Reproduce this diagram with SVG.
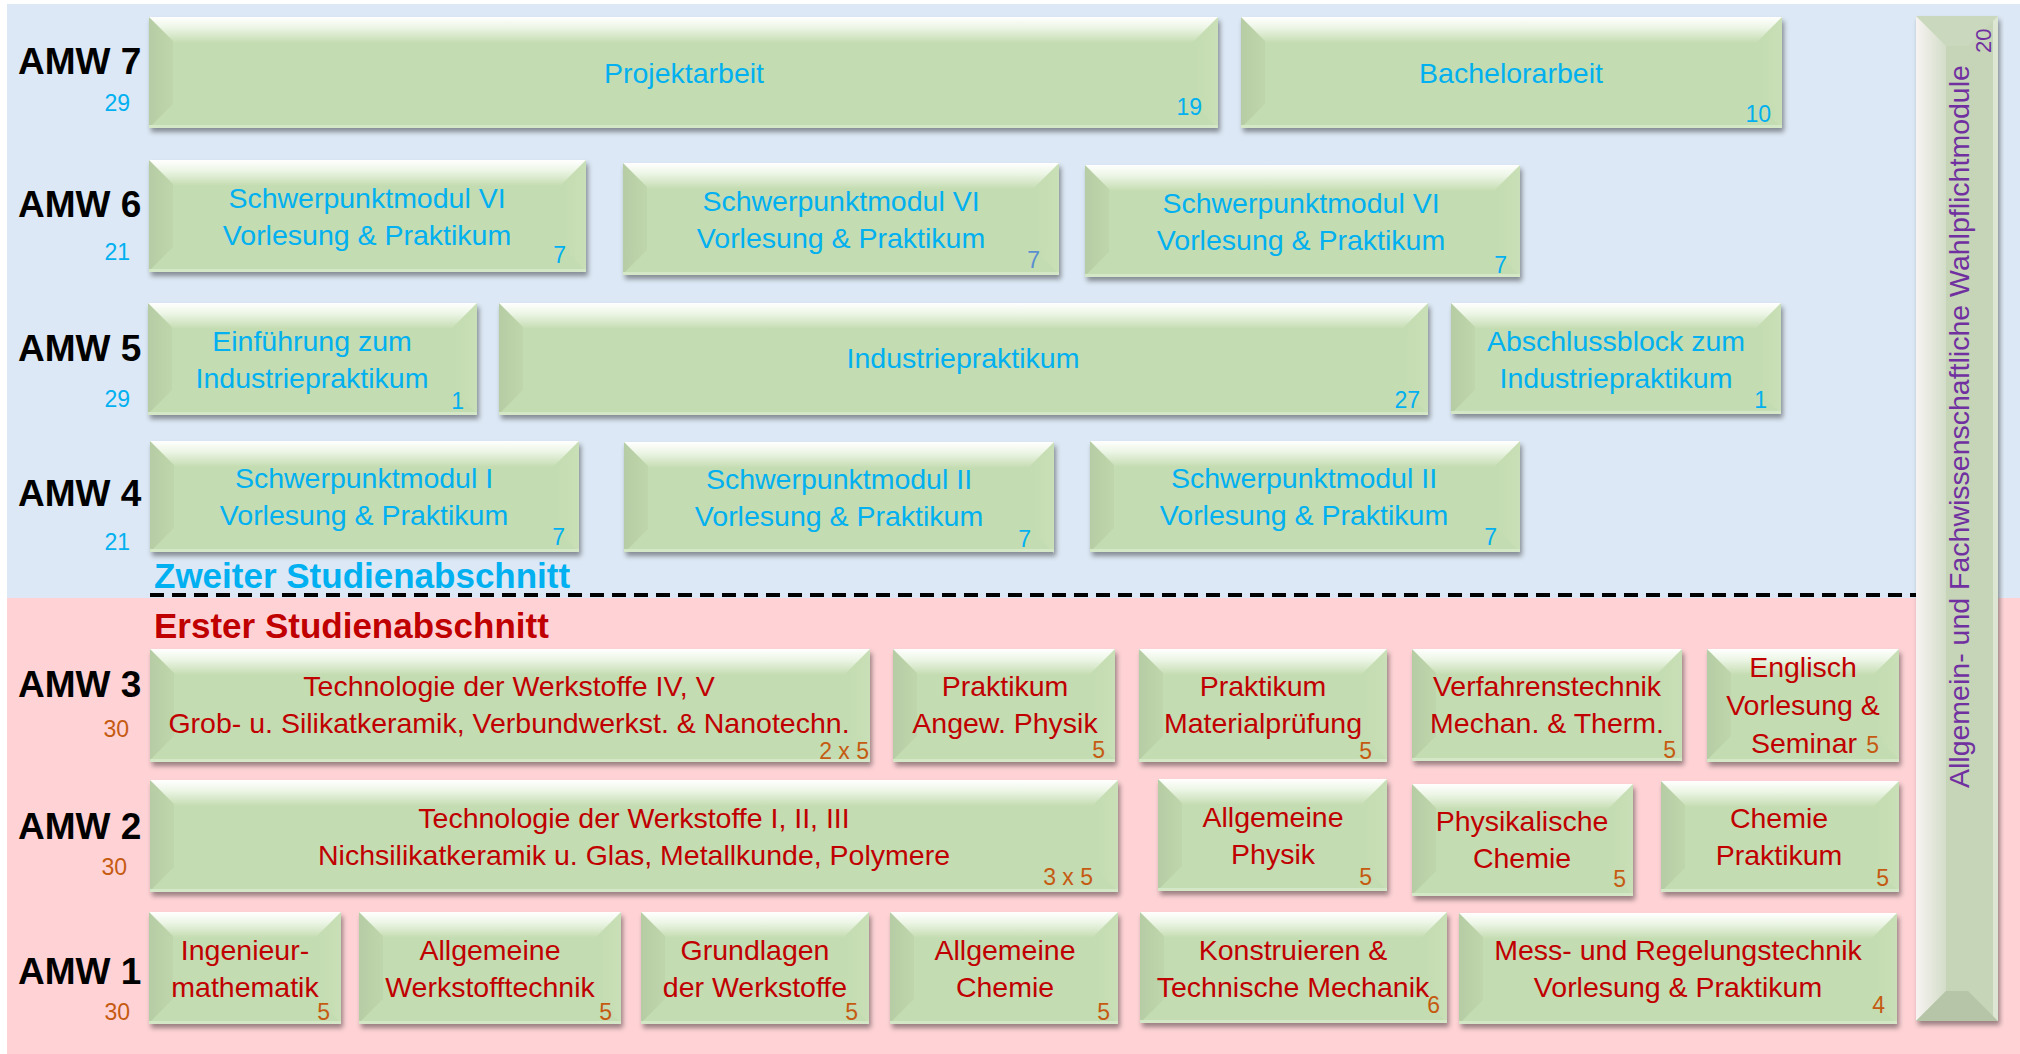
<svg xmlns="http://www.w3.org/2000/svg" width="2020" height="1054" viewBox="0 0 2020 1054">
<style>
text{font-family:'Liberation Sans',Arial,sans-serif}
.amw{font-size:37px;font-weight:bold;fill:#000}
.hd{font-size:35px;font-weight:bold}
.t{font-size:28.5px;text-anchor:middle}
.n{font-size:23px;text-anchor:end}
.c{font-size:23px;text-anchor:end}
.bl{fill:#00b0f0}
.sl{fill:#5b8fd0}
.rd{fill:#c00000}
.or{fill:#c55a11}
.pu{fill:#7030a0}
</style>
<defs>
<filter id="ds" x="-5%" y="-10%" width="112%" height="130%"><feDropShadow dx="2" dy="4" stdDeviation="2.5" flood-color="#000" flood-opacity="0.4"/></filter>
<linearGradient id="gTop" x1="0" y1="0" x2="0" y2="1"><stop offset="0" stop-color="#ffffff"/><stop offset="0.4" stop-color="#edf6e6"/><stop offset="1" stop-color="#c4dcb1"/></linearGradient>
<linearGradient id="gLeft" x1="0" y1="0" x2="1" y2="0"><stop offset="0" stop-color="#b6cca4"/><stop offset="1" stop-color="#bfd6ac"/></linearGradient>
<linearGradient id="gRight" x1="0" y1="0" x2="1" y2="0"><stop offset="0" stop-color="#c4dcb1"/><stop offset="1" stop-color="#c9dfb7"/></linearGradient>
<linearGradient id="gBarL" x1="0" y1="0" x2="1" y2="0"><stop offset="0" stop-color="#f7f3f2"/><stop offset="1" stop-color="#d3ddc8"/></linearGradient>
<symbol id="bev" overflow="visible">
<rect width="100%" height="100%" fill="#c4dcb1" filter="url(#ds)"/>
<rect width="100%" height="26" fill="url(#gTop)"/>
<polygon points="0,0 24,24 24,87 0,111" fill="url(#gLeft)"/>
<svg x="100%" y="0" width="1" height="1" overflow="visible"><polygon points="0,0 0,111 -24,87 -24,24" fill="url(#gRight)"/></svg>
<rect y="100%" width="100%" height="3" transform="translate(0,-3)" fill="#d4e7c6"/>
</symbol>
</defs>

<g id="background">
<rect x="0" y="0" width="2020" height="1054" fill="#ffffff"/>
<rect x="7" y="4" width="2013" height="594" fill="#dce8f5"/>
<rect x="7" y="598" width="2013" height="456" fill="#ffd3d6"/>
</g>

<g id="connectors">
<line x1="150" y1="595" x2="1918" y2="595" stroke="#000" stroke-width="4" stroke-dasharray="14 8"/>
</g>

<g id="labels">
<g id="amw7"><text class="amw" x="18" y="74">AMW 7</text><text class="c bl" x="130" y="111">29</text></g>
<g id="amw6"><text class="amw" x="18" y="217">AMW 6</text><text class="c bl" x="130" y="260">21</text></g>
<g id="amw5"><text class="amw" x="18" y="361">AMW 5</text><text class="c bl" x="130" y="407">29</text></g>
<g id="amw4"><text class="amw" x="18" y="506">AMW 4</text><text class="c bl" x="130" y="550">21</text></g>
<g id="amw3"><text class="amw" x="18" y="697">AMW 3</text><text class="c or" x="129" y="737">30</text></g>
<g id="amw2"><text class="amw" x="18" y="839">AMW 2</text><text class="c or" x="127" y="875">30</text></g>
<g id="amw1"><text class="amw" x="18" y="984">AMW 1</text><text class="c or" x="130" y="1020">30</text></g>
<text id="zweiter" class="hd bl" x="154" y="588">Zweiter Studienabschnitt</text>
<text id="erster" class="hd rd" x="154" y="638">Erster Studienabschnitt</text>
</g>

<g id="projektarbeit"><use href="#bev" x="149" y="17" width="1069" height="111"/><text class="t bl" x="684" y="83">Projektarbeit</text><text class="n bl" x="1202" y="115">19</text></g>
<g id="bachelorarbeit"><use href="#bev" x="1241" y="17" width="541" height="111"/><text class="t bl" x="1511" y="83">Bachelorarbeit</text><text class="n bl" x="1771" y="122">10</text></g>

<g id="r6a"><use href="#bev" x="149" y="160" width="437" height="112"/><text class="t bl" x="367" y="208">Schwerpunktmodul VI</text><text class="t bl" x="367" y="245">Vorlesung &amp; Praktikum</text><text class="n bl" x="566" y="263">7</text></g>
<g id="r6b"><use href="#bev" x="623" y="163" width="436" height="112"/><text class="t bl" x="841" y="211">Schwerpunktmodul VI</text><text class="t bl" x="841" y="248">Vorlesung &amp; Praktikum</text><text class="n sl" x="1040" y="268">7</text></g>
<g id="r6c"><use href="#bev" x="1085" y="165" width="435" height="112"/><text class="t bl" x="1301" y="213">Schwerpunktmodul VI</text><text class="t bl" x="1301" y="250">Vorlesung &amp; Praktikum</text><text class="n bl" x="1507" y="273">7</text></g>

<g id="r5a"><use href="#bev" x="148" y="303" width="329" height="112"/><text class="t bl" x="312" y="351">Einführung zum</text><text class="t bl" x="312" y="388">Industriepraktikum</text><text class="n bl" x="464" y="409">1</text></g>
<g id="r5b"><use href="#bev" x="499" y="303" width="929" height="112"/><text class="t bl" x="963" y="368">Industriepraktikum</text><text class="n bl" x="1420" y="408">27</text></g>
<g id="r5c"><use href="#bev" x="1451" y="303" width="330" height="111"/><text class="t bl" x="1616" y="351">Abschlussblock zum</text><text class="t bl" x="1616" y="388">Industriepraktikum</text><text class="n bl" x="1767" y="408">1</text></g>

<g id="r4a"><use href="#bev" x="150" y="441" width="429" height="111"/><text class="t bl" x="364" y="488">Schwerpunktmodul I</text><text class="t bl" x="364" y="525">Vorlesung &amp; Praktikum</text><text class="n bl" x="565" y="545">7</text></g>
<g id="r4b"><use href="#bev" x="624" y="442" width="430" height="110"/><text class="t bl" x="839" y="489">Schwerpunktmodul II</text><text class="t bl" x="839" y="526">Vorlesung &amp; Praktikum</text><text class="n bl" x="1031" y="547">7</text></g>
<g id="r4c"><use href="#bev" x="1090" y="441" width="430" height="111"/><text class="t bl" x="1304" y="488">Schwerpunktmodul II</text><text class="t bl" x="1304" y="525">Vorlesung &amp; Praktikum</text><text class="n bl" x="1497" y="545">7</text></g>

<g id="r3a"><use href="#bev" x="150" y="649" width="720" height="113"/><text class="t rd" x="509" y="696">Technologie der Werkstoffe IV, V</text><text class="t rd" x="509" y="733">Grob- u. Silikatkeramik, Verbundwerkst. &amp; Nanotechn.</text><text class="n or" x="869" y="759" font-size="22">2 x 5</text></g>
<g id="r3b"><use href="#bev" x="893" y="649" width="222" height="113"/><text class="t rd" x="1005" y="696">Praktikum</text><text class="t rd" x="1005" y="733">Angew. Physik</text><text class="n or" x="1105" y="758">5</text></g>
<g id="r3c"><use href="#bev" x="1139" y="649" width="248" height="113"/><text class="t rd" x="1263" y="696">Praktikum</text><text class="t rd" x="1263" y="733">Materialprüfung</text><text class="n or" x="1372" y="759">5</text></g>
<g id="r3d"><use href="#bev" x="1412" y="649" width="270" height="112"/><text class="t rd" x="1547" y="696">Verfahrenstechnik</text><text class="t rd" x="1547" y="733">Mechan. &amp; Therm.</text><text class="n or" x="1676" y="758">5</text></g>
<g id="r3e"><use href="#bev" x="1707" y="649" width="192" height="113"/><text class="t rd" x="1803" y="677">Englisch</text><text class="t rd" x="1803" y="715">Vorlesung &amp;</text><text class="t rd" x="1804" y="753">Seminar</text><text class="n or" x="1879" y="753">5</text></g>

<g id="r2a"><use href="#bev" x="150" y="780" width="968" height="112"/><text class="t rd" x="634" y="828">Technologie der Werkstoffe I, II, III</text><text class="t rd" x="634" y="865">Nichsilikatkeramik u. Glas, Metallkunde, Polymere</text><text class="n or" x="1093" y="885">3 x 5</text></g>
<g id="r2b"><use href="#bev" x="1158" y="779" width="229" height="112"/><text class="t rd" x="1273" y="827">Allgemeine</text><text class="t rd" x="1273" y="864">Physik</text><text class="n or" x="1372" y="885">5</text></g>
<g id="r2c"><use href="#bev" x="1412" y="784" width="221" height="112"/><text class="t rd" x="1522" y="831">Physikalische</text><text class="t rd" x="1522" y="868">Chemie</text><text class="n or" x="1626" y="887">5</text></g>
<g id="r2d"><use href="#bev" x="1661" y="781" width="238" height="111"/><text class="t rd" x="1779" y="828">Chemie</text><text class="t rd" x="1779" y="865">Praktikum</text><text class="n or" x="1889" y="886">5</text></g>

<g id="r1a"><use href="#bev" x="149" y="912" width="192" height="112"/><text class="t rd" x="245" y="960">Ingenieur-</text><text class="t rd" x="245" y="997">mathematik</text><text class="n or" x="330" y="1020">5</text></g>
<g id="r1b"><use href="#bev" x="359" y="912" width="262" height="112"/><text class="t rd" x="490" y="960">Allgemeine</text><text class="t rd" x="490" y="997">Werkstofftechnik</text><text class="n or" x="612" y="1020">5</text></g>
<g id="r1c"><use href="#bev" x="641" y="912" width="228" height="112"/><text class="t rd" x="755" y="960">Grundlagen</text><text class="t rd" x="755" y="997">der Werkstoffe</text><text class="n or" x="858" y="1020">5</text></g>
<g id="r1d"><use href="#bev" x="890" y="912" width="228" height="112"/><text class="t rd" x="1005" y="960">Allgemeine</text><text class="t rd" x="1005" y="997">Chemie</text><text class="n or" x="1110" y="1020">5</text></g>
<g id="r1e"><use href="#bev" x="1140" y="912" width="307" height="111"/><text class="t rd" x="1293" y="960">Konstruieren &amp;</text><text class="t rd" x="1293" y="997">Technische Mechanik</text><text class="n or" x="1440" y="1013">6</text></g>
<g id="r1f"><use href="#bev" x="1459" y="913" width="438" height="111"/><text class="t rd" x="1678" y="960">Mess- und Regelungstechnik</text><text class="t rd" x="1678" y="997">Vorlesung &amp; Praktikum</text><text class="n or" x="1885" y="1013">4</text></g>

<g id="wahlpflicht">
<rect x="1916" y="16" width="82" height="1005" fill="#c6d4b8" filter="url(#ds)"/>
<polygon points="1916,16 1998,16 1968,46 1946,46" fill="#cad9bd"/>
<polygon points="1916,16 1946,46 1946,991 1916,1021" fill="url(#gBarL)"/>
<polygon points="1916,1021 1998,1021 1968,991 1946,991" fill="#b6c5a7"/>
<polygon points="1998,16 1998,1021 1993,1016 1993,21" fill="#dce6d2"/>
<text class="pu" font-size="28.5" transform="translate(1969,788) rotate(-90)">Allgemein- und Fachwissenschaftliche Wahlpflichtmodule</text>
<text class="pu" font-size="22" transform="translate(1991,53) rotate(-90)">20</text>
</g>
</svg>
